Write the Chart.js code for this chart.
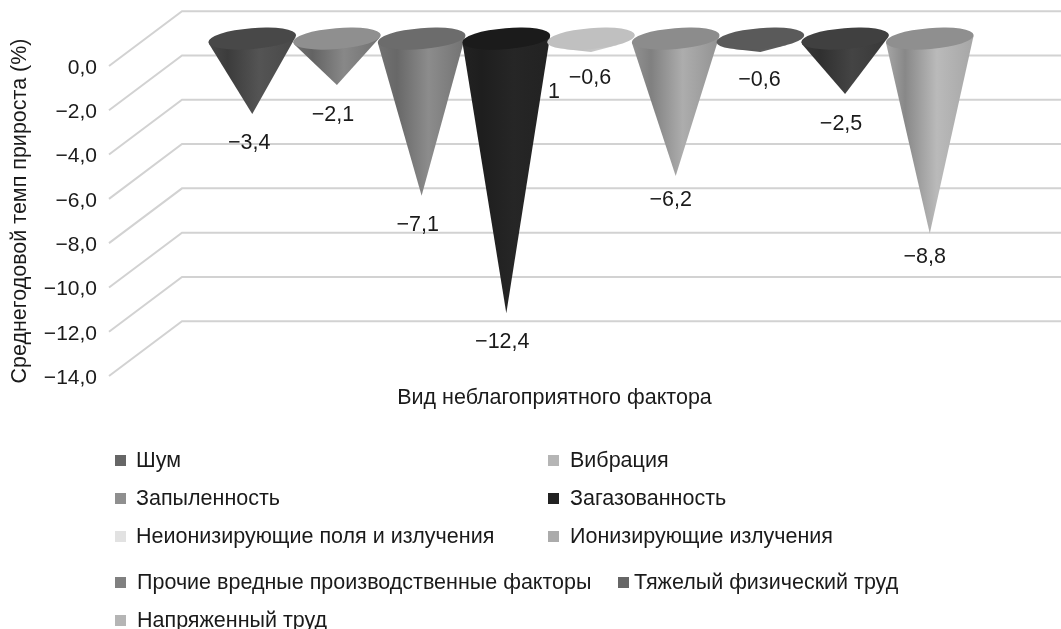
<!DOCTYPE html>
<html lang="ru">
<head>
<meta charset="utf-8">
<title>Среднегодовой темп прироста</title>
<script src="https://cdn.jsdelivr.net/npm/chart.js@4/dist/chart.umd.min.js"></script>
<style>
    html, body { margin: 0; padding: 0; background: #fff; }
    canvas { display: block; }
</style>
</head>
<body>
<canvas id="chart" width="1061" height="629"></canvas>
<script>
const factors = [
    'Шум', 'Вибрация', 'Запыленность', 'Загазованность', 'Неионизирующие поля и излучения',
    'Ионизирующие излучения', 'Прочие вредные производственные факторы',
    'Тяжелый физический труд', 'Напряженный труд'
];
const growth = [-3.4, -2.1, -7.1, -12.4, -0.6, -6.2, -0.6, -2.5, -8.8];
const growthLabels = ['−3,4', '−2,1', '−7,1', '−12,4', '−0,6', '−6,2', '−0,6', '−2,5', '−8,8'];
const tickLabels = ['−14,0', '−12,0', '−10,0', '−8,0', '−6,0', '−4,0', '−2,0', '0,0'];
const xTitle = 'Вид неблагоприятного фактора';
const yTitle = 'Среднегодовой темп прироста (%)';

// cone shades: lid, body edge, body darkest band, body lightest band
const lidColors = ['#484848', '#8f8f8f', '#6c6c6c', '#1b1b1b', '#c0c0c0', '#8c8c8c', '#5a5a5a', '#404040', '#8f8f8f'];
const edgeColors = ['#484848', '#707070', '#727272', '#222222', '#c0c0c0', '#929292', '#5a5a5a', '#383838', '#a6a6a6'];
const darkColors = ['#3c3c3c', '#636363', '#686868', '#1e1e1e', '#b8b8b8', '#808080', '#525252', '#303030', '#888888'];
const lightColors = ['#545454', '#888888', '#8c8c8c', '#262626', '#c8c8c8', '#adadad', '#5e5e5e', '#444444', '#bababa'];
const legendColors = ['#666666', '#b5b5b5', '#8f8f8f', '#222222', '#e2e2e2', '#ababab', '#808080', '#666666', '#b5b5b5'];

// label offsets from the cone tip
const labelDx = [-3, -4, -4, -4, -1, -5, -1, -4, -5];
const labelDy = [29, 30, 29, 29, 26, 24, 28, 30, 24];
// marker x, text x, row y for each legend entry
const legendX = [115, 548, 115, 548, 115, 548, 115, 618, 115];
const legendTextX = [136, 570, 136, 570, 136, 570, 137, 634, 137];
const legendY = [460, 460, 498, 498, 536, 536, 582, 582, 620];

const FAMILY = '"Liberation Sans", Arial, sans-serif';
const FONT = '21.5px ' + FAMILY;
const DEPTH_X = 73, DEPTH_Y = 54.8;
const GRID = '#d2d2d2', TEXT = '#1a1a1a';

function drawCone(ctx, el, i) {
    const cx = el.x + DEPTH_X / 2;
    const cy = el.base - DEPTH_Y / 2;
    const tipY = el.y - DEPTH_Y / 2;
    const a = el.width / 2, b = 10.5, rot = -4.8 * Math.PI / 180;

    // outline of the cone is the hull of the lid seen from the tip
    const pts = [];
    for (let t = 0; t < Math.PI * 2; t += 0.02) {
        const ex = a * Math.cos(t), ey = b * Math.sin(t);
        pts.push([cx + ex * Math.cos(rot) - ey * Math.sin(rot), cy + ex * Math.sin(rot) + ey * Math.cos(rot)]);
    }
    const ang = p => Math.atan2(p[0] - cx, tipY - p[1]);
    const left = pts.reduce((m, p) => (ang(p) < ang(m) ? p : m));
    const right = pts.reduce((m, p) => (ang(p) > ang(m) ? p : m));

    const grad = ctx.createLinearGradient(cx - a, 0, cx + a, 0);
    grad.addColorStop(0, edgeColors[i]);
    grad.addColorStop(0.22, darkColors[i]);
    grad.addColorStop(0.58, lightColors[i]);
    grad.addColorStop(1, edgeColors[i]);

    ctx.beginPath();
    ctx.moveTo(left[0], left[1]);
    ctx.lineTo(cx, tipY);
    ctx.lineTo(right[0], right[1]);
    ctx.closePath();
    ctx.fillStyle = grad;
    ctx.fill();

    ctx.beginPath();
    ctx.ellipse(cx, cy, a, b, rot, 0, Math.PI * 2);
    ctx.fillStyle = lidColors[i];
    ctx.fill();
    return { cx, tipY };
}

const conePlugin = {
    id: 'cones',
    beforeDatasetsDraw(chart) {
        const { ctx, scales: { y }, chartArea } = chart;
        ctx.save();
        ctx.strokeStyle = GRID;
        ctx.lineWidth = 2;
        y.ticks.forEach(t => {
            const py = y.getPixelForValue(t.value);
            ctx.beginPath();
            ctx.moveTo(chartArea.left, py);
            ctx.lineTo(chartArea.left + DEPTH_X, py - DEPTH_Y);
            ctx.lineTo(chartArea.right + DEPTH_X, py - DEPTH_Y);
            ctx.stroke();
        });
        ctx.restore();
    },
    afterDatasetsDraw(chart) {
        const { ctx } = chart;
        ctx.save();
        const tips = growth.map((v, i) => drawCone(ctx, chart.getDatasetMeta(i).data[0], i));

        ctx.font = FONT;
        ctx.fillStyle = TEXT;
        ctx.textAlign = 'center';
        ctx.textBaseline = 'middle';
        tips.forEach((tip, i) => {
            ctx.fillText(growthLabels[i], tip.cx + labelDx[i], tip.tipY + labelDy[i]);
        });
        // clipped leftover of a label in the source figure
        ctx.fillText('1', 554, 92);

        ctx.save();
        ctx.translate(20, 211);
        ctx.rotate(-Math.PI / 2);
        ctx.fillText(yTitle, 0, 0);
        ctx.restore();

        factors.forEach((name, i) => {
            ctx.fillStyle = legendColors[i];
            ctx.fillRect(legendX[i], legendY[i] - 5, 11, 11);
            ctx.fillStyle = TEXT;
            ctx.textAlign = 'left';
            ctx.fillText(name, legendTextX[i], legendY[i] + 1);
        });
        ctx.restore();
    }
};

new Chart(document.getElementById('chart'), {
    type: 'bar',
    data: {
        labels: [xTitle],
        datasets: factors.map((name, i) => ({
            label: name,
            data: [growth[i]],
            backgroundColor: 'transparent',
            borderWidth: 0
        }))
    },
    options: {
        responsive: false,
        animation: false,
        categoryPercentage: 0.8555,
        barPercentage: 1.04,
        layout: { padding: { top: 66, right: 61, bottom: 218, left: 0 } },
        plugins: { legend: { display: false }, tooltip: { enabled: false } },
        scales: {
            x: {
                grid: { display: false },
                border: { display: false },
                ticks: { display: false },
                title: { display: true, text: xTitle, color: TEXT, font: { size: 21.5, family: FAMILY }, padding: 0 },
                afterFit(scale) { scale.height = 35; }
            },
            y: {
                min: -14,
                max: 0,
                grid: { display: false, drawTicks: false },
                border: { display: false },
                ticks: {
                    stepSize: 2,
                    padding: 12,
                    labelOffset: 2,
                    color: TEXT,
                    font: { size: 21, family: FAMILY },
                    callback: (value, index) => tickLabels[index]
                },
                afterFit(scale) { scale.width = 109; }
            }
        }
    },
    plugins: [conePlugin]
});
</script>
</body>
</html>
